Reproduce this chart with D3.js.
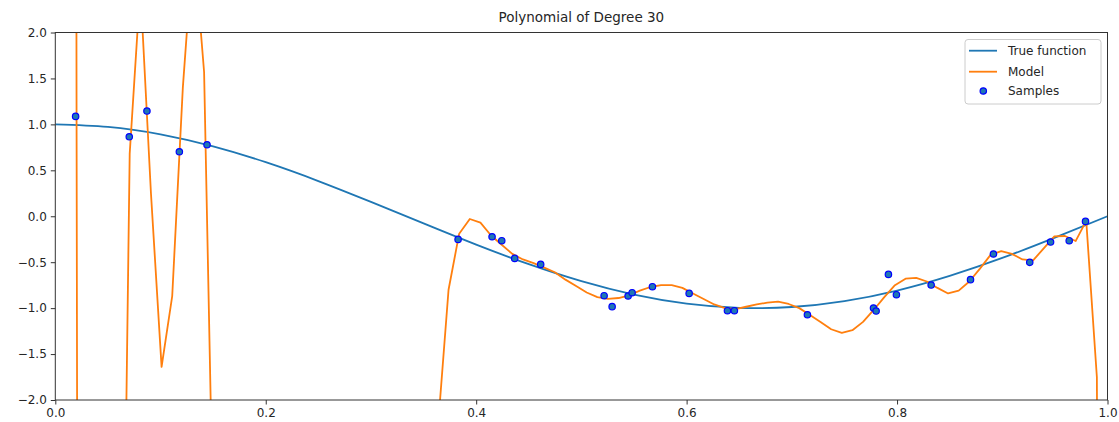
<!DOCTYPE html>
<html>
<head>
<meta charset="utf-8">
<script src="https://cdn.jsdelivr.net/npm/d3@7"></script>
<style>
  body { margin: 0; background: #fff; }
  svg text { font-family: "DejaVu Sans", sans-serif; fill: #262626; }
</style>
</head>
<body>
<div id="chart"></div>
<script>
// data
const sampleX = [0.0193, 0.0703, 0.0871, 0.1179, 0.1442, 0.3828, 0.4151, 0.4243, 0.4366, 0.4613,
  0.5216, 0.5292, 0.5444, 0.5482, 0.5675, 0.6024, 0.6388, 0.6454, 0.7148, 0.7776,
  0.7801, 0.7918, 0.7994, 0.8324, 0.8698, 0.8916, 0.9261, 0.9459, 0.9636, 0.9791];
const sampleY = [1.087, 0.865, 1.145, 0.702, 0.778, -0.252, -0.223, -0.266, -0.459, -0.524,
  -0.865, -0.984, -0.868, -0.832, -0.767, -0.840, -1.028, -1.028, -1.072, -0.999,
  -1.032, -0.633, -0.854, -0.749, -0.690, -0.411, -0.502, -0.281, -0.266, -0.056];

const trueX = [0, 0.05, 0.1, 0.15, 0.2, 0.25, 0.3, 0.35, 0.4, 0.45, 0.5,
  0.55, 0.6, 0.65, 0.7, 0.75, 0.8, 0.85, 0.9, 0.95, 1.0];
const trueY = [1.0, 0.972, 0.891, 0.76, 0.588, 0.383, 0.156, -0.078, -0.309, -0.522, -0.707,
  -0.853, -0.951, -0.997, -0.988, -0.924, -0.809, -0.649, -0.454, -0.233, 0.0];

// model evaluated on 100 evenly spaced points, values off the axes are rough guesses
const modelY = [40, 90, 1.09, -60, -40, -25, -8, 0.68, 2.5, 0.25,
  -1.64, -0.87, 1.40, 3.0, 1.57, -4.2,
  -12, -17, -20, -22, -23, -23, -22, -21, -19, -17,
  -15, -13, -11, -9, -8, -6, -5, -4, -3.5, -3.0,
  -2.3, -0.8, -0.19, -0.03, -0.07, -0.21, -0.31, -0.41, -0.47, -0.51,
  -0.56, -0.61, -0.69, -0.76, -0.83, -0.88, -0.90, -0.89, -0.86, -0.81,
  -0.77, -0.75, -0.75, -0.78, -0.84, -0.90, -0.96, -1.00, -1.01, -0.985,
  -0.96, -0.94, -0.93, -0.955, -1.00, -1.075, -1.15, -1.23, -1.27, -1.24,
  -1.15, -1.02, -0.88, -0.75, -0.68, -0.67, -0.71, -0.78, -0.84, -0.81,
  -0.71, -0.57, -0.42, -0.38, -0.41, -0.47, -0.48, -0.35, -0.22, -0.215,
  -0.27, -0.05, -1.75, -30];
const modelX = d3.range(modelY.length).map(i => i / (modelY.length - 1));

const xTicks = [0, 0.2, 0.4, 0.6, 0.8, 1.0];
const yTicks = [-2, -1.5, -1, -0.5, 0, 0.5, 1, 1.5, 2];
const legendLabels = ['True function', 'Model', 'Samples'];

// layout
let width = 1119, height = 422;
let margin = { top: 32.5, right: 11.5, bottom: 22, left: 55.3 };
let plotW = width - margin.left - margin.right;
let plotH = height - margin.top - margin.bottom;

let blue = '#1f77b4', orange = '#ff7f0e';

let svg = d3.select('#chart').append('svg')
  .attr('width', width)
  .attr('height', height);

let x = d3.scaleLinear().domain([0, 1]).range([margin.left, margin.left + plotW]);
let y = d3.scaleLinear().domain([-2, 2]).range([margin.top + plotH, margin.top]);

svg.append('clipPath').attr('id', 'plotClip')
  .append('rect')
  .attr('x', margin.left).attr('y', margin.top)
  .attr('width', plotW).attr('height', plotH);

let fmt = d => d3.format('.1f')(d).replace('-', '\u2212');

// axes
let xAxis = svg.append('g')
  .attr('transform', `translate(0,${margin.top + plotH})`)
  .call(d3.axisBottom(x).tickValues(xTicks).tickFormat(fmt).tickSizeOuter(0).tickSize(4.5).tickPadding(4));
let yAxis = svg.append('g')
  .attr('transform', `translate(${margin.left},0)`)
  .call(d3.axisLeft(y).tickValues(yTicks).tickFormat(fmt).tickSizeOuter(0).tickSize(4.5).tickPadding(4));
[xAxis, yAxis].forEach(a => {
  a.select('.domain').remove();
  a.selectAll('line').attr('stroke', '#333');
  a.selectAll('text').attr('font-size', 12).attr('fill', '#262626')
    .style('font-family', '"DejaVu Sans", sans-serif');
});

let plot = svg.append('g').attr('clip-path', 'url(#plotClip)');

// true function
plot.append('path')
  .datum(trueX.map((d, i) => [d, trueY[i]]))
  .attr('fill', 'none')
  .attr('stroke', blue)
  .attr('stroke-width', 1.8)
  .attr('d', d3.line().x(d => x(d[0])).y(d => y(d[1])).curve(d3.curveNatural));

// model
plot.append('path')
  .datum(modelX.map((d, i) => [d, modelY[i]]))
  .attr('fill', 'none')
  .attr('stroke', orange)
  .attr('stroke-width', 1.8)
  .attr('stroke-linejoin', 'round')
  .attr('d', d3.line().x(d => x(d[0])).y(d => y(d[1])));

// samples
svg.append('g').selectAll('circle')
  .data(sampleX.map((d, i) => [d, sampleY[i]]))
  .join('circle')
  .attr('cx', d => x(d[0]))
  .attr('cy', d => y(d[1]))
  .attr('r', 3.2)
  .attr('fill', blue)
  .attr('stroke', '#0000ff')
  .attr('stroke-width', 1.2);

// frame
svg.append('rect')
  .attr('x', margin.left).attr('y', margin.top)
  .attr('width', plotW).attr('height', plotH)
  .attr('fill', 'none').attr('stroke', '#333').attr('stroke-width', 1);

// title
svg.append('text')
  .attr('x', margin.left + plotW / 2)
  .attr('y', 21.5)
  .attr('text-anchor', 'middle')
  .attr('font-size', 13.5)
  .text('Polynomial of Degree 30');

// legend
let legend = svg.append('g').attr('transform', 'translate(965,39.5)');
legend.append('rect')
  .attr('width', 136).attr('height', 64.5)
  .attr('rx', 3)
  .attr('fill', 'white').attr('fill-opacity', 0.8)
  .attr('stroke', '#cccccc').attr('stroke-width', 1);
let rowY = [11.2, 32.2, 51.5];
legendLabels.forEach((lab, i) => {
  let g = legend.append('g').attr('transform', `translate(0,${rowY[i]})`);
  if (i < 2) {
    g.append('line')
      .attr('x1', 4).attr('x2', 32)
      .attr('stroke', i === 0 ? blue : orange)
      .attr('stroke-width', 1.8);
  } else {
    g.append('circle')
      .attr('cx', 18.3).attr('r', 3.2)
      .attr('fill', blue).attr('stroke', '#0000ff').attr('stroke-width', 1.2);
  }
  g.append('text')
    .attr('x', 43)
    .attr('dy', '0.35em')
    .attr('font-size', 12)
    .text(lab);
});
</script>
</body>
</html>
